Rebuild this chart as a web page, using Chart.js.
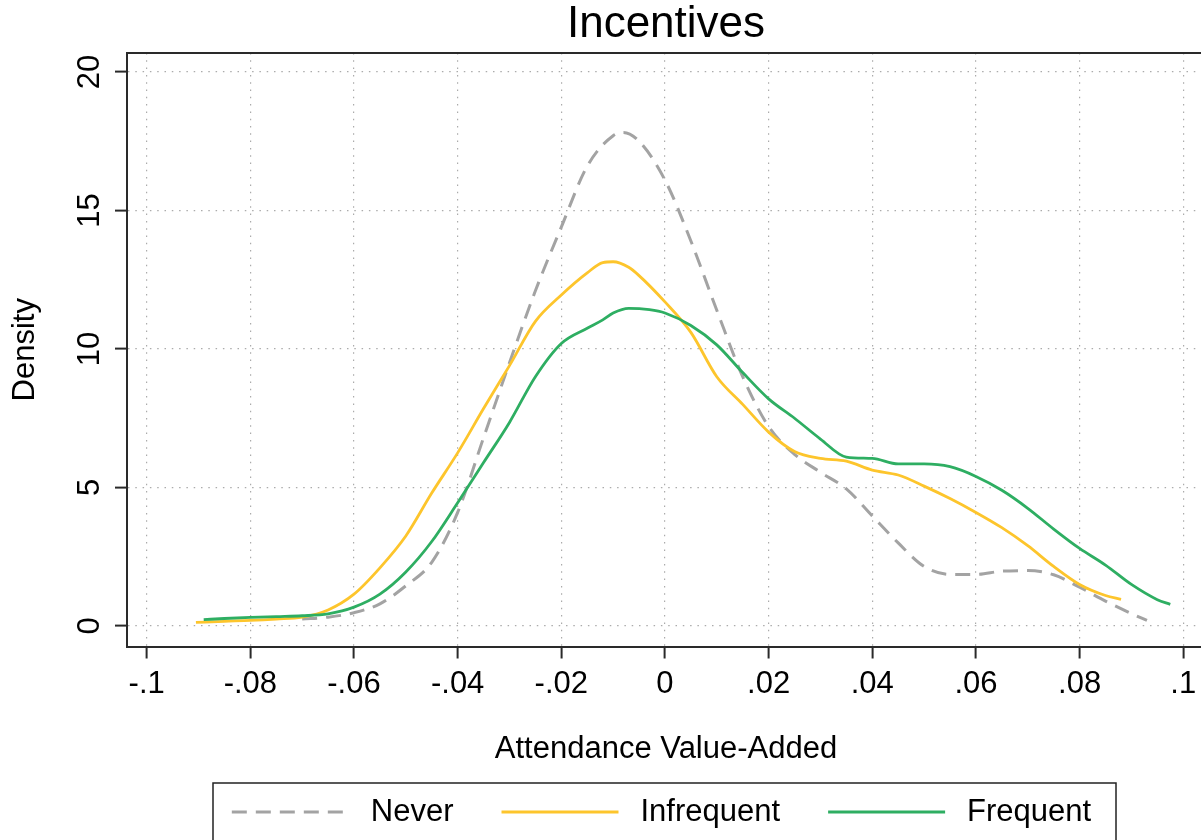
<!DOCTYPE html>
<html><head><meta charset="utf-8">
<script src="https://cdn.jsdelivr.net/npm/chart.js@4.4.1/dist/chart.umd.min.js"></script>
<style>html,body{margin:0;padding:0;overflow:hidden;background:#fff;}#wrap{width:1215px;height:840px;}</style>
</head><body><div id="wrap"><canvas id="c" width="1215" height="840"></canvas></div>
<script>
const chartTitle = 'Incentives';
const xTitle = 'Attendance Value-Added';
const yTitle = 'Density';
const seriesNames = ['Never', 'Infrequent', 'Frequent'];
const xTickValues = [-0.1, -0.08, -0.06, -0.04, -0.02, 0, 0.02, 0.04, 0.06, 0.08, 0.1];
const xTickLabels = ['-.1', '-.08', '-.06', '-.04', '-.02', '0', '.02', '.04', '.06', '.08', '.1'];
const yTickValues = [0, 5, 10, 15, 20];
const yTickLabels = ['0', '5', '10', '15', '20'];

const neverX = [-0.070,-0.065,-0.060,-0.055,-0.050,-0.045,-0.040,-0.035,-0.030,-0.025,-0.020,-0.015,-0.010,-0.008,-0.005,0.000,0.005,0.010,0.015,0.020,0.025,0.030,0.035,0.040,0.045,0.050,0.055,0.060,0.065,0.070,0.075,0.080,0.085,0.090,0.093];
const neverY = [0.25,0.32,0.48,0.8,1.45,2.3,4.1,6.8,9.5,12.1,14.4,16.6,17.7,17.82,17.5,16.1,13.9,11.4,9.0,7.2,6.2,5.55,4.95,3.97,3.0,2.15,1.86,1.86,1.98,2.0,1.85,1.4,0.9,0.45,0.2];

const infrequentX = [-0.0905,-0.085,-0.080,-0.075,-0.070,-0.065,-0.060,-0.055,-0.050,-0.045,-0.040,-0.035,-0.030,-0.025,-0.020,-0.015,-0.012,-0.010,-0.007,-0.005,0.000,0.005,0.010,0.015,0.020,0.025,0.030,0.035,0.040,0.045,0.050,0.055,0.060,0.065,0.070,0.075,0.080,0.085,0.088];
const infrequentY = [0.13,0.17,0.2,0.25,0.32,0.58,1.15,2.1,3.25,4.8,6.25,7.85,9.4,11.0,11.95,12.75,13.12,13.15,12.95,12.65,11.7,10.6,9.0,8.0,7.0,6.3,6.05,5.95,5.63,5.45,5.05,4.6,4.1,3.55,2.9,2.15,1.5,1.1,0.96];

const frequentX = [-0.089,-0.085,-0.080,-0.075,-0.070,-0.065,-0.060,-0.055,-0.050,-0.045,-0.040,-0.035,-0.030,-0.025,-0.020,-0.015,-0.012,-0.010,-0.007,-0.003,0.000,0.005,0.010,0.015,0.020,0.025,0.030,0.035,0.040,0.045,0.050,0.055,0.060,0.065,0.070,0.075,0.080,0.085,0.090,0.095,0.0975];
const frequentY = [0.23,0.27,0.31,0.34,0.37,0.44,0.68,1.15,1.95,3.05,4.45,5.9,7.35,9.0,10.2,10.75,11.05,11.3,11.47,11.42,11.3,10.85,10.15,9.15,8.2,7.5,6.75,6.1,6.05,5.85,5.85,5.75,5.4,4.9,4.25,3.5,2.8,2.2,1.5,0.95,0.78];

const FONT = '"Liberation Sans", Arial, sans-serif';
Chart.defaults.font.family = FONT;
Chart.defaults.color = '#000';

const toPts = (xs, ys) => xs.map((x, i) => ({x: x, y: ys[i]}));

const framePlugin = {
  id: 'frame',
  afterDatasetsDraw(chart) {
    const {ctx, chartArea: a} = chart;
    ctx.save();
    ctx.strokeStyle = '#2a2a2a';
    ctx.lineWidth = 2;
    ctx.beginPath();
    ctx.moveTo(a.left, a.top);
    ctx.lineTo(a.right, a.top);
    ctx.lineTo(a.right, a.bottom);
    ctx.stroke();
    ctx.restore();
  }
};

const legendPlugin = {
  id: 'boxLegend',
  afterDraw(chart) {
    const {ctx, chartArea: a} = chart;
    const cx = (a.left + a.right) / 2 - 1.5;
    const boxW = 903, top = 783, y = 812;
    const left = cx - boxW / 2;
    ctx.save();
    ctx.strokeStyle = '#222';
    ctx.lineWidth = 1.5;
    ctx.strokeRect(left, top, boxW, 120);
    ctx.font = '31px ' + FONT;
    ctx.textBaseline = 'middle';
    ctx.fillStyle = '#000';
    const sampleW = 117, gapT = 22, gapI = 48;
    const ds = chart.data.datasets;
    const widths = ds.map(d => ctx.measureText(d.label).width);
    const total = ds.length * (sampleW + gapT) + widths.reduce((s, w) => s + w, 0) + (ds.length - 1) * gapI;
    let x = cx - total / 2 - 3;
    ds.forEach((d, i) => {
      ctx.beginPath();
      ctx.setLineDash(d.borderDash || []);
      ctx.strokeStyle = d.borderColor;
      ctx.lineWidth = d.borderWidth;
      ctx.moveTo(x, y);
      ctx.lineTo(x + sampleW, y);
      ctx.stroke();
      ctx.setLineDash([]);
      x += sampleW + gapT;
      ctx.fillText(d.label, x, y);
      x += widths[i] + gapI;
    });
    ctx.restore();
  }
};

const gridOpts = {color: '#ababab', lineWidth: 1.2, tickLength: 12, tickColor: '#2a2a2a', tickWidth: 2, tickBorderDash: [], drawTicks: true};
const borderOpts = {display: true, color: '#2a2a2a', width: 2, dash: [1.5, 5.8]};

new Chart(document.getElementById('c'), {
  type: 'scatter',
  data: {
    datasets: [
      {label: seriesNames[0], data: toPts(neverX, neverY), showLine: true, borderColor: '#a3a3a3', borderWidth: 3, borderDash: [15, 9], pointRadius: 0, cubicInterpolationMode: 'monotone', fill: false, order: 3},
      {label: seriesNames[1], data: toPts(infrequentX, infrequentY), showLine: true, borderColor: '#fdc52c', borderWidth: 2.8, pointRadius: 0, cubicInterpolationMode: 'monotone', fill: false, order: 2},
      {label: seriesNames[2], data: toPts(frequentX, frequentY), showLine: true, borderColor: '#2eae62', borderWidth: 2.8, pointRadius: 0, cubicInterpolationMode: 'monotone', fill: false, order: 1}
    ]
  },
  options: {
    responsive: false,
    animation: false,
    devicePixelRatio: 1,
    layout: {padding: {left: 0, right: 10, top: 0, bottom: 68.5}},
    plugins: {
      legend: {display: false},
      tooltip: {enabled: false},
      title: {display: true, text: chartTitle, fullSize: false, color: '#000',
        font: {size: 44, family: FONT, weight: 'normal', lineHeight: 1},
        padding: {top: 3, bottom: 6}}
    },
    scales: {
      x: {
        type: 'linear', min: -0.1038, max: 0.1042,
        afterBuildTicks: s => { s.ticks = xTickValues.map(v => ({value: v})); },
        afterFit: s => { s.height = 125; },
        ticks: {callback: (v, i) => xTickLabels[i], font: {size: 31, lineHeight: 1.2}, color: '#000', padding: 7, minRotation: 0, maxRotation: 0, autoSkip: false},
        grid: gridOpts,
        border: borderOpts,
        title: {display: true, text: xTitle, color: '#000', font: {size: 31, lineHeight: 1}, padding: {top: 0, bottom: 6.5}}
      },
      y: {
        type: 'linear', min: -0.74, max: 20.686,
        afterBuildTicks: s => { s.ticks = yTickValues.map(v => ({value: v})); },
        afterFit: s => { s.width = 127; },
        ticks: {callback: (v, i) => yTickLabels[i], font: {size: 31, lineHeight: 1.2}, color: '#000', padding: 7, minRotation: 90, maxRotation: 90, crossAlign: 'center', autoSkip: false},
        grid: gridOpts,
        border: borderOpts,
        title: {display: true, text: yTitle, color: '#000', font: {size: 31, lineHeight: 1}, padding: {top: 9.5, bottom: 0}}
      }
    }
  },
  plugins: [framePlugin, legendPlugin]
});
</script>
</body></html>
